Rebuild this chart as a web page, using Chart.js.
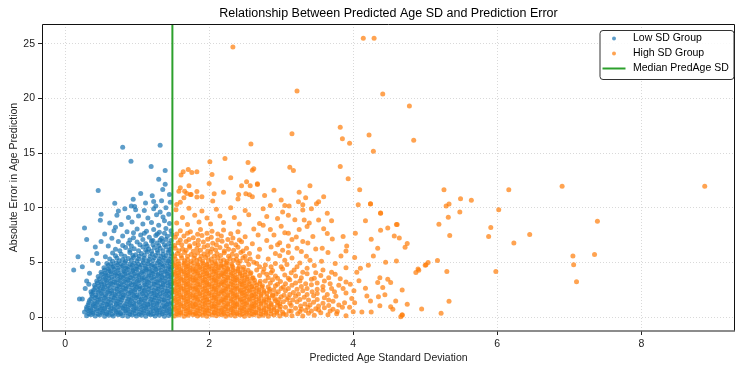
<!DOCTYPE html>
<html>
<head>
<meta charset="utf-8">
<script src="https://cdn.jsdelivr.net/npm/chart.js@4.4.1/dist/chart.umd.min.js"></script>
<style>
    html, body { margin: 0; padding: 0; background: #fff; }
    canvas { display: block; }
</style>
</head>
<body>
<canvas id="sdChart" width="739" height="369"></canvas>
<script>
// =====================
// DATA
// =====================
let chartTitle = "Relationship Between Predicted Age SD and Prediction Error";
let xLabel = "Predicted Age Standard Deviation";
let yLabel = "Absolute Error in Age Prediction";
let seriesNames = ["Low SD Group", "High SD Group", "Median PredAge SD"];

let xTicks = [0, 2, 4, 6, 8];
let yTicks = [0, 5, 10, 15, 20, 25];

let medianSd = 1.49;

// low SD group: [sd, abs error]
let lowSdPoints = [
    [0.30,0.12],[0.36,0.2],[0.42,0.1],[0.48,0.18],[0.55,0.08],[0.61,0.16],[0.67,0.1],[0.74,0.2],[0.8,0.12],[0.87,0.06],[0.93,0.18],[0.99,0.1],[1.06,0.15],[1.12,0.08],[1.19,0.2],[1.25,0.1],[1.31,0.16],[1.38,0.06],[1.44,0.14],
    [0.27,0.45],[0.33,0.55],[0.39,0.48],[0.45,0.58],[0.52,0.5],[0.58,0.44],[0.64,0.56],[0.71,0.5],[0.77,0.42],[0.84,0.55],[0.9,0.48],[0.96,0.58],[1.03,0.46],[1.09,0.52],[1.15,0.44],[1.22,0.57],[1.28,0.5],[1.35,0.45],[1.41,0.55],[1.47,0.48],
    [0.3,0.9],[0.36,0.85],[0.42,0.95],[0.49,0.88],[0.55,0.82],[0.61,0.93],[0.68,0.86],[0.74,0.95],[0.8,0.84],[0.87,0.9],[0.93,0.97],[0.99,0.85],[1.06,0.92],[1.12,0.86],[1.19,0.95],[1.25,0.88],[1.31,0.82],[1.38,0.93],[1.44,0.87],
    [0.33,1.3],[0.39,1.22],[0.45,1.35],[0.52,1.27],[0.58,1.2],[0.64,1.32],[0.71,1.25],[0.77,1.36],[0.84,1.22],[0.9,1.3],[0.96,1.24],[1.03,1.34],[1.09,1.27],[1.15,1.2],[1.22,1.33],[1.28,1.26],[1.35,1.35],[1.41,1.22],[1.47,1.3],
    [0.36,1.68],[0.42,1.75],[0.49,1.65],[0.55,1.72],[0.61,1.62],[0.68,1.74],[0.74,1.66],[0.8,1.76],[0.87,1.64],[0.93,1.7],[0.99,1.78],[1.06,1.65],[1.12,1.72],[1.19,1.63],[1.25,1.75],[1.31,1.68],[1.38,1.6],[1.44,1.73],
    [0.37,2.1],[0.43,2.02],[0.5,2.14],[0.56,2.06],[0.62,2.16],[0.69,2.05],[0.75,2.12],[0.81,2.02],[0.88,2.15],[0.94,2.08],[1.0,2.0],[1.07,2.13],[1.13,2.06],[1.2,2.16],[1.26,2.04],[1.32,2.12],[1.39,2.05],[1.45,2.15],
    [0.4,2.5],[0.46,2.44],[0.53,2.56],[0.59,2.47],[0.65,2.4],[0.72,2.53],[0.78,2.45],[0.84,2.56],[0.91,2.42],[0.97,2.5],[1.03,2.58],[1.1,2.44],[1.16,2.52],[1.23,2.42],[1.29,2.55],[1.35,2.47],[1.42,2.4],[1.48,2.53],
    [0.41,2.9],[0.47,2.84],[0.54,2.95],[0.6,2.86],[0.66,2.97],[0.73,2.85],[0.79,2.92],[0.85,2.82],[0.92,2.96],[0.98,2.88],[1.04,2.8],[1.11,2.93],[1.17,2.86],[1.24,2.97],[1.3,2.84],[1.36,2.92],[1.43,2.85],
    [0.44,3.3],[0.5,3.22],[0.57,3.35],[0.63,3.26],[0.69,3.2],[0.76,3.33],[0.82,3.25],[0.88,3.36],[0.95,3.22],[1.01,3.3],[1.07,3.38],[1.14,3.24],[1.2,3.32],[1.27,3.22],[1.33,3.35],[1.39,3.27],[1.46,3.2],
    [0.46,3.7],[0.53,3.64],[0.59,3.75],[0.65,3.66],[0.72,3.76],[0.78,3.65],[0.84,3.72],[0.91,3.62],[0.97,3.76],[1.03,3.68],[1.1,3.6],[1.16,3.73],[1.23,3.66],[1.29,3.77],[1.35,3.64],[1.42,3.72],[1.47,3.65],
    [0.5,4.1],[0.56,4.02],[0.63,4.15],[0.69,4.06],[0.75,4.0],[0.82,4.13],[0.88,4.05],[0.94,4.16],[1.01,4.02],[1.07,4.1],[1.13,4.18],[1.2,4.04],[1.26,4.12],[1.33,4.02],[1.39,4.15],[1.45,4.07],
    [0.54,4.5],[0.6,4.42],[0.66,4.55],[0.73,4.47],[0.79,4.56],[0.85,4.45],[0.92,4.52],[0.98,4.42],[1.04,4.56],[1.11,4.48],[1.17,4.4],[1.24,4.53],[1.3,4.46],[1.36,4.57],[1.43,4.44],[1.48,4.52],
    [0.58,4.9],[0.64,4.84],[0.71,4.95],[0.77,4.86],[0.83,4.97],[0.9,4.85],[0.96,4.92],[1.02,4.82],[1.09,4.96],[1.15,4.88],[1.21,4.8],[1.28,4.93],[1.34,4.86],[1.41,4.97],[1.46,4.84],
    [0.33,0.3],[0.39,0.34],[0.46,0.28],[0.52,0.36],[0.58,0.3],[0.65,0.26],[0.71,0.35],[0.77,0.3],[0.84,0.38],[0.9,0.28],[0.97,0.33],[1.03,0.25],[1.09,0.36],[1.16,0.3],[1.22,0.27],[1.28,0.35],[1.35,0.3],[1.41,0.38],[1.47,0.28],
    [0.3,0.7],[0.36,0.66],[0.43,0.74],[0.49,0.68],[0.55,0.76],[0.62,0.65],[0.68,0.72],[0.74,0.67],[0.81,0.75],[0.87,0.68],[0.94,0.64],[1.0,0.73],[1.06,0.68],[1.13,0.76],[1.19,0.66],[1.26,0.72],[1.32,0.65],[1.38,0.75],[1.45,0.7],
    [0.32,1.1],[0.39,1.05],[0.45,1.14],[0.51,1.06],[0.58,1.12],[0.64,1.04],[0.71,1.15],[0.77,1.08],[0.83,1.02],[0.9,1.13],[0.96,1.06],[1.03,1.15],[1.09,1.05],[1.15,1.12],[1.22,1.07],[1.28,1.14],[1.35,1.04],[1.41,1.1],[1.47,1.16],
    [0.34,1.5],[0.41,1.45],[0.47,1.55],[0.54,1.48],[0.6,1.42],[0.67,1.54],[0.73,1.46],[0.79,1.55],[0.86,1.44],[0.92,1.52],[0.98,1.46],[1.05,1.56],[1.11,1.48],[1.18,1.42],[1.24,1.54],[1.3,1.47],[1.37,1.55],[1.43,1.45],
    [0.38,1.9],[0.45,1.85],[0.51,1.95],[0.57,1.88],[0.64,1.82],[0.7,1.94],[0.77,1.86],[0.83,1.96],[0.89,1.84],[0.96,1.92],[1.02,1.86],[1.09,1.95],[1.15,1.88],[1.21,1.82],[1.28,1.94],[1.34,1.87],[1.41,1.95],[1.47,1.85],
    [0.39,2.3],[0.46,2.26],[0.52,2.35],[0.59,2.28],[0.65,2.22],[0.72,2.34],[0.78,2.27],[0.84,2.36],[0.91,2.24],[0.97,2.32],[1.04,2.26],[1.1,2.35],[1.16,2.28],[1.23,2.22],[1.29,2.34],[1.36,2.27],[1.42,2.36],[1.48,2.25],
    [0.42,2.7],[0.49,2.66],[0.55,2.75],[0.62,2.68],[0.68,2.62],[0.75,2.74],[0.81,2.67],[0.88,2.76],[0.94,2.64],[1.0,2.72],[1.07,2.66],[1.13,2.75],[1.2,2.68],[1.26,2.62],[1.33,2.74],[1.39,2.67],[1.46,2.76],
    [0.45,3.1],[0.51,3.05],[0.58,3.14],[0.64,3.06],[0.71,3.12],[0.77,3.04],[0.84,3.15],[0.9,3.08],[0.97,3.02],[1.03,3.13],[1.1,3.06],[1.16,3.15],[1.23,3.05],[1.29,3.12],[1.36,3.07],[1.42,3.14],[1.48,3.04],
    [0.48,3.5],[0.55,3.45],[0.61,3.55],[0.68,3.48],[0.74,3.42],[0.81,3.54],[0.87,3.46],[0.94,3.55],[1.0,3.44],[1.07,3.52],[1.13,3.46],[1.2,3.56],[1.26,3.48],[1.32,3.42],[1.39,3.54],[1.45,3.47],
    [0.51,3.9],[0.57,3.86],[0.64,3.95],[0.7,3.88],[0.77,3.82],[0.83,3.94],[0.9,3.87],[0.96,3.96],[1.03,3.84],[1.09,3.92],[1.16,3.86],[1.22,3.95],[1.29,3.88],[1.35,3.82],[1.42,3.94],[1.48,3.87],
    [0.55,4.3],[0.61,4.25],[0.68,4.35],[0.74,4.28],[0.81,4.22],[0.87,4.34],[0.94,4.27],[1.0,4.36],[1.07,4.24],[1.13,4.32],[1.2,4.26],[1.26,4.35],[1.33,4.28],[1.39,4.22],[1.46,4.34],
    [0.6,4.7],[0.67,4.65],[0.73,4.75],[0.8,4.68],[0.86,4.62],[0.93,4.74],[0.99,4.67],[1.06,4.76],[1.12,4.64],[1.19,4.72],[1.25,4.66],[1.32,4.75],[1.38,4.68],[1.44,4.62],
    [0.62,5.3],[0.72,5.4],[0.8,5.25],[0.88,5.35],[0.95,5.45],[1.02,5.3],[1.1,5.38],[1.17,5.25],[1.24,5.42],[1.31,5.3],[1.38,5.4],[1.45,5.28],
    [0.66,5.1],[0.75,5.15],[0.84,5.1],[0.92,5.18],[1.0,5.12],[1.08,5.2],[1.15,5.1],[1.22,5.16],[1.3,5.1],[1.36,5.2],[1.43,5.12],[1.48,5.05],
    [0.7,5.6],[0.83,5.55],[0.94,5.62],[1.03,5.55],[1.1,5.65],[1.18,5.55],[1.26,5.62],[1.33,5.55],[1.4,5.6],[1.47,5.55],
    [0.66,5.85],[0.78,5.75],[0.9,5.9],[0.98,5.7],[1.06,5.82],[1.14,5.95],[1.21,5.76],[1.29,5.88],[1.36,5.72],[1.43,5.9],[1.48,5.78],
    [0.76,6.05],[0.9,6.1],[1.02,6.05],[1.12,6.1],[1.2,6.02],[1.28,6.1],[1.36,6.05],[1.44,6.1],
    [0.7,6.2],[0.84,6.35],[0.96,6.25],[1.08,6.4],[1.16,6.22],[1.24,6.36],[1.32,6.28],[1.4,6.42],[1.46,6.2],
    [0.8,6.55],[0.92,6.5],[1.04,6.6],[1.14,6.5],[1.22,6.62],[1.3,6.52],[1.38,6.62],[1.47,6.5],
    [0.74,6.9],[0.88,6.75],[1.0,6.85],[1.12,6.7],[1.2,6.95],[1.28,6.78],[1.35,6.9],[1.44,6.72],
    [0.9,7.05],[1.08,7.1],[1.22,7.0],[1.32,7.05],[1.4,7.1],[1.47,7.0],
    [0.8,7.4],[0.95,7.25],[1.05,7.5],[1.17,7.3],[1.26,7.45],[1.34,7.2],[1.42,7.38],[1.48,7.55],
    [1.1,7.65],[1.28,7.6],[1.38,7.65],[0.95,7.7],
    [0.68,7.9],[0.86,7.8],[1.0,8.05],[1.13,7.85],[1.23,8.0],[1.31,7.75],[1.4,8.1],[1.47,7.9],
    [0.62,8.6],[0.78,8.45],[0.93,8.7],[1.08,8.5],[1.2,8.65],[1.3,8.4],[1.38,8.8],[1.45,8.55],
    [0.72,9.3],[0.88,9.1],[1.02,9.25],[1.15,9.05],[1.27,9.35],[1.36,9.15],[1.44,9.4],
    [0.5,9.39],[0.49,8.84],[0.27,8.14],[0.3,7.1],[0.12,4.3],[0.18,5.5],[0.24,4.6],[0.2,1.64],[0.24,1.64],[0.3,3.3],
    [0.34,4.0],[0.38,5.2],[0.44,5.8],[0.42,6.4],[0.5,6.9],[0.55,7.6],[0.46,4.9],[0.28,2.6],[0.33,3.0],[0.36,2.3],
    [0.56,5.5],[0.6,6.5],[0.65,7.2],[0.7,8.2],[0.74,9.7],[0.83,9.9],[0.98,9.8],[1.1,9.75],[1.23,9.9],[1.32,9.6],[1.4,10.0],
    [0.8,15.52],[1.32,15.7],[0.915,14.25],[1.195,13.76],[1.39,13.4],[1.39,12.15],[1.356,11.67],[1.21,11.09],[0.46,11.58],
    [0.69,10.4],[0.946,10.76],[1.117,10.42],[1.23,10.57],[1.34,10.64],[0.92,10.15],[0.966,10.1],[1.26,10.15],[1.45,11.2],
    [1.05,11.3],[1.3,12.6],[1.46,10.5]
];

// high SD group: [sd, abs error]
let highSdPoints = [
    [1.52,0.1],[1.58,0.18],[1.65,0.08],[1.71,0.15],[1.78,0.2],[1.84,0.1],[1.91,0.16],[1.97,0.06],[2.04,0.18],[2.1,0.12],[2.17,0.2],[2.23,0.08],[2.3,0.15],[2.36,0.1],[2.43,0.18],[2.49,0.06],[2.56,0.14],[2.62,0.2],[2.69,0.1],[2.75,0.16],[2.82,0.08],[2.9,0.18],[2.98,0.1],[3.07,0.2],[3.15,0.12],
    [1.55,0.5],[1.61,0.44],[1.68,0.56],[1.74,0.48],[1.81,0.42],[1.87,0.55],[1.94,0.47],[2.0,0.58],[2.07,0.44],[2.13,0.52],[2.2,0.46],[2.26,0.57],[2.33,0.5],[2.39,0.42],[2.46,0.55],[2.52,0.48],[2.59,0.56],[2.65,0.44],[2.72,0.52],[2.79,0.46],[2.86,0.57],[2.94,0.5],[3.02,0.44],[3.11,0.55],
    [1.52,0.9],[1.58,0.84],[1.65,0.95],[1.71,0.87],[1.78,0.97],[1.84,0.85],[1.91,0.92],[1.97,0.82],[2.04,0.96],[2.1,0.88],[2.17,0.8],[2.23,0.93],[2.3,0.86],[2.36,0.97],[2.43,0.84],[2.49,0.92],[2.56,0.85],[2.62,0.96],[2.69,0.88],[2.76,0.82],[2.83,0.94],[2.9,0.86],[2.99,0.95],
    [1.55,1.3],[1.61,1.22],[1.68,1.35],[1.74,1.26],[1.81,1.2],[1.87,1.33],[1.94,1.25],[2.0,1.36],[2.07,1.22],[2.13,1.3],[2.2,1.38],[2.26,1.24],[2.33,1.32],[2.39,1.22],[2.46,1.35],[2.52,1.27],[2.59,1.2],[2.65,1.33],[2.72,1.26],[2.79,1.36],[2.86,1.24],[2.95,1.32],
    [1.52,1.7],[1.58,1.64],[1.65,1.75],[1.71,1.66],[1.78,1.76],[1.84,1.65],[1.91,1.72],[1.97,1.62],[2.04,1.76],[2.1,1.68],[2.17,1.6],[2.23,1.73],[2.3,1.66],[2.36,1.77],[2.43,1.64],[2.49,1.72],[2.56,1.65],[2.62,1.76],[2.69,1.68],[2.76,1.6],[2.83,1.74],[2.91,1.66],
    [1.55,2.1],[1.61,2.02],[1.68,2.15],[1.74,2.06],[1.81,2.0],[1.87,2.13],[1.94,2.05],[2.0,2.16],[2.07,2.02],[2.13,2.1],[2.2,2.18],[2.26,2.04],[2.33,2.12],[2.39,2.02],[2.46,2.15],[2.52,2.07],[2.59,2.0],[2.65,2.13],[2.72,2.06],[2.8,2.16],[2.88,2.04],
    [1.52,2.5],[1.58,2.44],[1.65,2.55],[1.71,2.46],[1.78,2.56],[1.84,2.45],[1.91,2.52],[1.97,2.42],[2.04,2.56],[2.1,2.48],[2.17,2.4],[2.23,2.53],[2.3,2.46],[2.36,2.57],[2.43,2.44],[2.49,2.52],[2.56,2.45],[2.62,2.56],[2.69,2.48],[2.76,2.42],[2.84,2.55],
    [1.55,2.9],[1.61,2.82],[1.68,2.95],[1.74,2.86],[1.81,2.8],[1.87,2.93],[1.94,2.85],[2.0,2.96],[2.07,2.82],[2.13,2.9],[2.2,2.98],[2.26,2.84],[2.33,2.92],[2.39,2.82],[2.46,2.95],[2.52,2.87],[2.59,2.8],[2.66,2.93],[2.74,2.86],
    [1.52,3.3],[1.58,3.24],[1.65,3.35],[1.71,3.26],[1.78,3.36],[1.84,3.25],[1.91,3.32],[1.97,3.22],[2.04,3.36],[2.1,3.28],[2.17,3.2],[2.23,3.33],[2.3,3.26],[2.36,3.37],[2.43,3.24],[2.49,3.32],[2.56,3.25],[2.63,3.36],[2.71,3.28],
    [1.55,3.7],[1.61,3.62],[1.68,3.75],[1.74,3.66],[1.81,3.6],[1.87,3.73],[1.94,3.65],[2.0,3.76],[2.07,3.62],[2.13,3.7],[2.2,3.78],[2.26,3.64],[2.33,3.72],[2.39,3.62],[2.46,3.75],[2.53,3.67],[2.61,3.6],
    [1.52,4.1],[1.58,4.04],[1.65,4.15],[1.71,4.06],[1.78,4.16],[1.84,4.05],[1.91,4.12],[1.97,4.02],[2.04,4.16],[2.1,4.08],[2.17,4.0],[2.23,4.13],[2.3,4.06],[2.36,4.17],[2.43,4.04],[2.5,4.12],[2.58,4.05],
    [1.55,4.5],[1.61,4.42],[1.68,4.55],[1.74,4.46],[1.81,4.4],[1.87,4.53],[1.94,4.45],[2.0,4.56],[2.07,4.42],[2.13,4.5],[2.2,4.58],[2.26,4.44],[2.33,4.52],[2.4,4.42],[2.48,4.55],
    [1.52,4.9],[1.58,4.84],[1.65,4.95],[1.71,4.86],[1.78,4.96],[1.84,4.85],[1.91,4.92],[1.97,4.82],[2.04,4.96],[2.1,4.88],[2.17,4.8],[2.24,4.93],[2.31,4.86],[2.4,4.97],
    [1.55,0.3],[1.61,0.34],[1.68,0.28],[1.74,0.36],[1.81,0.3],[1.87,0.26],[1.94,0.35],[2.0,0.3],[2.07,0.38],[2.13,0.28],[2.2,0.33],[2.26,0.25],[2.33,0.36],[2.39,0.3],[2.46,0.27],[2.52,0.35],[2.59,0.3],[2.65,0.38],[2.72,0.28],[2.79,0.34],[2.86,0.3],[2.94,0.36],[3.03,0.28],
    [1.52,0.7],[1.58,0.66],[1.65,0.74],[1.71,0.68],[1.78,0.76],[1.84,0.65],[1.91,0.72],[1.97,0.67],[2.04,0.75],[2.1,0.68],[2.17,0.64],[2.23,0.73],[2.3,0.68],[2.36,0.76],[2.43,0.66],[2.49,0.72],[2.56,0.65],[2.62,0.75],[2.69,0.7],[2.76,0.66],[2.83,0.74],[2.9,0.68],[2.98,0.72],
    [1.55,1.1],[1.61,1.05],[1.68,1.14],[1.74,1.06],[1.81,1.12],[1.87,1.04],[1.94,1.15],[2.0,1.08],[2.07,1.02],[2.13,1.13],[2.2,1.06],[2.26,1.15],[2.33,1.05],[2.39,1.12],[2.46,1.07],[2.52,1.14],[2.59,1.04],[2.65,1.1],[2.72,1.16],[2.79,1.06],[2.86,1.12],[2.95,1.08],
    [1.52,1.5],[1.58,1.45],[1.65,1.55],[1.71,1.48],[1.78,1.42],[1.84,1.54],[1.91,1.46],[1.97,1.55],[2.04,1.44],[2.1,1.52],[2.17,1.46],[2.23,1.56],[2.3,1.48],[2.36,1.42],[2.43,1.54],[2.49,1.47],[2.56,1.55],[2.62,1.45],[2.69,1.52],[2.76,1.46],[2.83,1.55],[2.92,1.48],
    [1.55,1.9],[1.61,1.85],[1.68,1.95],[1.74,1.88],[1.81,1.82],[1.87,1.94],[1.94,1.86],[2.0,1.96],[2.07,1.84],[2.13,1.92],[2.2,1.86],[2.26,1.95],[2.33,1.88],[2.39,1.82],[2.46,1.94],[2.52,1.87],[2.59,1.95],[2.65,1.85],[2.72,1.92],[2.8,1.86],[2.88,1.94],
    [1.52,2.3],[1.58,2.26],[1.65,2.35],[1.71,2.28],[1.78,2.22],[1.84,2.34],[1.91,2.27],[1.97,2.36],[2.04,2.24],[2.1,2.32],[2.17,2.26],[2.23,2.35],[2.3,2.28],[2.36,2.22],[2.43,2.34],[2.49,2.27],[2.56,2.36],[2.62,2.25],[2.69,2.32],[2.76,2.26],[2.84,2.35],
    [1.55,2.7],[1.61,2.66],[1.68,2.75],[1.74,2.68],[1.81,2.62],[1.87,2.74],[1.94,2.67],[2.0,2.76],[2.07,2.64],[2.13,2.72],[2.2,2.66],[2.26,2.75],[2.33,2.68],[2.39,2.62],[2.46,2.74],[2.52,2.67],[2.59,2.76],[2.66,2.64],[2.73,2.72],
    [1.52,3.1],[1.58,3.05],[1.65,3.14],[1.71,3.06],[1.78,3.12],[1.84,3.04],[1.91,3.15],[1.97,3.08],[2.04,3.02],[2.1,3.13],[2.17,3.06],[2.23,3.15],[2.3,3.05],[2.36,3.12],[2.43,3.07],[2.49,3.14],[2.56,3.04],[2.63,3.12],[2.7,3.06],
    [1.55,3.5],[1.61,3.45],[1.68,3.55],[1.74,3.48],[1.81,3.42],[1.87,3.54],[1.94,3.46],[2.0,3.55],[2.07,3.44],[2.13,3.52],[2.2,3.46],[2.26,3.56],[2.33,3.48],[2.39,3.42],[2.46,3.54],[2.53,3.47],[2.6,3.55],
    [1.52,3.9],[1.58,3.86],[1.65,3.95],[1.71,3.88],[1.78,3.82],[1.84,3.94],[1.91,3.87],[1.97,3.96],[2.04,3.84],[2.1,3.92],[2.17,3.86],[2.23,3.95],[2.3,3.88],[2.36,3.82],[2.43,3.94],[2.5,3.87],[2.57,3.95],
    [1.55,4.3],[1.61,4.25],[1.68,4.35],[1.74,4.28],[1.81,4.22],[1.87,4.34],[1.94,4.27],[2.0,4.36],[2.07,4.24],[2.13,4.32],[2.2,4.26],[2.26,4.35],[2.33,4.28],[2.4,4.22],[2.47,4.34],[2.54,4.27],
    [1.52,4.7],[1.58,4.65],[1.65,4.75],[1.71,4.68],[1.78,4.62],[1.84,4.74],[1.91,4.67],[1.97,4.76],[2.04,4.64],[2.1,4.72],[2.17,4.66],[2.24,4.75],[2.32,4.68],[2.42,4.62],
    [1.57,5.1],[1.66,5.15],[1.75,5.08],[1.83,5.18],[1.91,5.1],[1.99,5.16],[2.08,5.08],[2.16,5.15],[2.25,5.1],[2.34,5.18],[2.43,5.1],[2.52,5.15],
    [1.53,5.3],[1.62,5.4],[1.7,5.25],[1.79,5.38],[1.87,5.28],[1.95,5.45],[2.03,5.3],[2.12,5.4],[2.2,5.22],[2.29,5.36],[2.38,5.28],[2.47,5.42],[2.57,5.3],
    [1.52,5.58],[1.61,5.62],[1.7,5.55],[1.8,5.62],[1.89,5.56],[1.98,5.64],[2.07,5.56],[2.16,5.62],[2.27,5.55],[2.38,5.62],[2.5,5.56],
    [1.56,5.8],[1.66,5.9],[1.75,5.72],[1.84,5.86],[1.93,5.76],[2.02,5.92],[2.11,5.78],[2.21,5.88],[2.32,5.74],[2.44,5.9],[2.56,5.8],
    [1.58,6.05],[1.68,6.1],[1.78,6.02],[1.88,6.1],[1.98,6.04],[2.09,6.12],[2.21,6.04],[2.34,6.1],[2.47,6.04],
    [1.53,6.3],[1.63,6.22],[1.73,6.38],[1.83,6.26],[1.93,6.4],[2.04,6.25],[2.15,6.35],[2.27,6.2],[2.4,6.38],[2.52,6.3],
    [1.52,6.55],[1.62,6.6],[1.73,6.52],[1.85,6.62],[1.98,6.55],[2.1,6.6],[2.24,6.52],[2.37,6.62],
    [1.57,6.8],[1.68,6.9],[1.8,6.72],[1.92,6.86],[2.05,6.75],[2.18,6.92],[2.31,6.78],[2.45,6.88],[2.6,6.7],
    [1.6,7.05],[1.72,7.1],[1.85,7.02],[1.98,7.12],[2.12,7.05],[2.26,7.1],[2.42,7.05],
    [1.53,7.3],[1.65,7.4],[1.78,7.25],[1.9,7.45],[2.03,7.3],[2.17,7.42],[2.33,7.22],[2.5,7.35],[2.68,7.5],
    [1.55,7.6],[1.7,7.65],[1.84,7.58],[1.97,7.65],[2.12,7.6],[2.3,7.62],
    [1.6,7.9],[1.74,7.8],[1.88,8.0],[2.04,7.85],[2.2,7.95],[2.4,7.8],[2.62,8.05],
    [1.55,8.6],[1.7,8.45],[1.86,8.7],[2.02,8.5],[2.2,8.65],[2.42,8.5],[2.7,8.55],
    [1.63,9.1],[1.8,9.3],[1.97,9.05],[2.15,9.25],[2.35,9.1],[2.55,9.35],[2.8,9.2],
    [1.54,9.8],[1.72,9.95],[1.9,9.7],[2.1,9.85],[2.3,10.0],[2.5,9.75],[2.75,9.9],
    [1.6,10.5],[1.55,10.3],[1.58,11.5],[1.65,10.9],[1.75,11.2],[1.9,11.0],[2.05,10.6],[2.2,11.4],[2.4,10.8],[2.6,11.0],
    [1.72,12.0],[2.0,12.2],[2.45,12.0],[2.9,11.6],[3.0,10.7],[3.05,10.2],
    [2.98,1.2],[3.06,0.9],[3.08,1.6],[2.97,1.6],[3.04,2.0],[2.93,2.1],[2.9,2.5],[3.0,2.6],[2.85,3.1],[2.95,3.0],
    [2.82,3.6],[2.95,3.55],[2.75,4.1],[2.86,4.05],[2.7,4.6],[2.86,4.6],[2.62,5.0],[3.0,4.6],
    [3.23,0.3],[3.3,0.1],[3.38,0.35],[3.46,0.15],[3.55,0.4],[3.65,0.2],[3.77,0.3],[3.9,0.12],
    [3.2,0.8],[3.28,0.7],[3.37,0.9],[3.48,0.75],[3.6,0.85],[3.72,0.7],[3.85,0.9],
    [3.03,1.4],[3.12,1.25],[3.22,1.4],[3.33,1.2],[3.45,1.35],[3.58,1.25],[3.72,1.45],[3.88,1.3],
    [3.0,1.85],[3.1,1.75],[3.2,1.9],[3.32,1.8],[3.45,1.95],[3.6,1.75],[3.76,1.9],
    [2.96,2.3],[3.06,2.4],[3.17,2.25],[3.3,2.4],[3.43,2.3],[3.58,2.45],[3.74,2.3],[3.9,2.2],
    [2.82,2.75],[2.92,2.85],[3.03,2.75],[3.15,2.9],[3.28,2.8],[3.42,2.95],[3.58,2.8],[3.8,2.9],
    [2.78,3.3],[2.88,3.4],[2.99,3.25],[3.12,3.4],[3.26,3.3],[3.42,3.45],[3.6,3.3],
    [2.7,3.8],[2.8,3.9],[2.92,3.75],[3.05,3.85],[3.2,3.75],[3.36,3.95],[3.55,3.8],[3.75,3.9],
    [2.66,4.3],[2.76,4.4],[2.88,4.25],[3.02,4.4],[3.18,4.3],[3.36,4.45],[3.58,4.3],
    [2.55,4.8],[2.66,4.9],[2.78,4.75],[2.92,4.9],[3.08,4.8],[3.26,4.95],[3.46,4.7],
    [2.68,5.5],[2.82,5.3],[2.98,5.6],[3.15,5.4],[3.35,5.55],
    [2.7,6.2],[2.86,6.4],[3.02,6.1],[3.22,6.3],[2.8,7.0],[2.98,6.8],[3.15,7.1],[2.85,8.0],[3.0,8.3],[2.95,9.0],
    [3.14,0.55],[3.26,0.5],[3.34,0.6],[3.42,0.55],[3.52,0.65],[3.68,0.55],[3.14,1.05],[3.27,1.0],[3.4,1.1],[3.52,1.0],
    [3.66,1.05],[3.8,1.1],[3.16,1.55],[3.26,1.6],[3.38,1.55],[3.5,1.6],[3.66,1.55],[3.12,2.05],[3.24,2.1],[3.36,2.05],
    [3.5,2.15],[3.64,2.05],[3.1,2.6],[3.22,2.55],[3.36,2.6],[3.5,2.55],[3.7,2.6],[3.06,3.05],[3.2,3.1],[3.34,3.05],
    [3.5,3.1],[3.68,3.05],[3.9,3.2],[3.1,3.55],[3.28,3.6],[3.46,3.55],[3.66,3.6],[3.14,4.05],[3.3,4.1],[3.48,4.05],
    [3.7,4.1],[3.9,4.5],[3.75,4.9],[3.56,5.1],[3.4,5.2],[3.22,4.6],[3.05,5.2],[3.78,0.5],[3.95,0.9],[3.98,1.7],
    [3.86,2.6],[3.82,3.5],[3.96,3.0],[2.92,5.8],[3.1,5.9],[3.28,6.0],[2.95,6.6],[3.1,6.5],[3.3,6.9],[2.9,7.5],
    [3.05,7.7],[3.25,8.0],[2.75,8.4],[3.1,9.3],[2.85,10.2],[3.02,9.6],
    [2.33,24.7],[3.22,20.67],[4.14,25.5],[4.29,25.5],[4.41,20.4],[4.78,19.3],[4.22,16.65],[4.84,16.16],[4.28,15.16],
    [3.15,16.77],[3.82,17.35],[3.85,16.3],[3.95,15.9],[2.58,15.83],[3.82,13.76],[3.93,12.64],[3.12,13.7],[3.17,13.4],
    [2.22,14.5],[2.01,14.19],[2.54,14.13],[2.6,13.43],[2.62,13.55],[2.04,13.04],[2.3,12.73],[2.52,12.37],[1.61,13.0],
    [1.64,13.28],[1.71,13.49],[1.76,13.22],[1.83,13.28],[2.67,12.19],
    [1.6,11.82],[1.66,11.5],[1.69,11.3],[1.74,11.2],[1.83,11.49],[1.83,10.97],[2.07,11.28],[2.41,11.21],[2.51,11.28],
    [2.56,11.19],[2.77,11.12],[2.57,12.0],[2.67,12.12],
    [3.4,12.0],[3.25,11.42],[4.09,11.64],[3.34,10.91],[3.59,11.0],[3.52,10.55],[3.49,10.36],[3.24,10.55],[3.3,10.27],
    [3.11,10.15],[4.07,10.27],[4.24,10.36],[3.42,9.9],[3.3,9.78],[3.64,9.5],[4.38,9.5],[3.19,8.9],[3.32,8.87],[3.52,8.87],
    [3.7,8.81],[4.17,8.81],[3.39,8.6],[3.36,8.27],[4.61,8.45],[4.48,8.14],[4.38,7.93],[3.59,8.08],[3.64,7.63],[4.03,7.66],
    [4.57,7.41],[4.64,7.23],[3.1,7.66],[3.21,7.32],[3.44,7.36],[3.71,7.14],[3.86,7.36],[4.25,7.11],[4.75,6.72],[4.72,6.38],
    [4.34,6.29],[3.91,6.5],[3.57,6.29],[3.48,6.23],[3.37,6.77],[3.9,6.04],[3.65,5.9],[4.28,5.59],[3.83,5.59],[4.02,5.44],
    [4.45,5.01],[4.6,5.13],[5.04,4.99],[5.0,4.74],[4.9,4.38],[4.87,4.07],[4.21,4.74],[4.1,4.47],[4.05,4.1],[4.08,3.31],
    [4.37,3.58],[4.48,3.46],[4.34,3.16],[4.52,3.16],[4.41,2.71],[4.68,2.46],[4.17,2.62],[4.44,2.03],[4.35,1.85],[4.19,1.91],
    [4.01,2.4],[4.02,1.3],[4.24,1.46],[4.59,1.46],[4.37,1.03],[4.52,0.94],[4.55,0.7],[4.12,0.46],[4.25,0.46],[4.68,0.15],
    [4.66,0.03],[4.95,0.73],[4.0,0.48],
    [5.26,11.64],[6.16,11.64],[6.9,11.97],[8.88,11.97],[5.49,10.82],[5.64,10.69],[5.29,10.15],[5.33,10.33],[6.02,9.82],
    [5.48,9.6],[5.32,9.12],[7.39,8.75],[5.19,8.48],[5.91,8.18],[6.45,7.54],[5.34,7.45],[5.88,7.36],[6.23,6.77],[7.05,5.59],
    [7.35,5.72],[5.17,5.17],[7.06,4.77],[5.3,4.17],[5.98,4.17],[7.1,3.22],[5.33,1.43],[4.75,1.16],[5.22,0.34],[4.68,0.21],
    [4.6,8.45],[4.38,9.51],[4.24,10.33],[5.01,4.77],[4.91,4.28]
];

// =====================
// COLOURS / FONTS
// =====================
let blue = "rgba(31, 119, 180, 0.72)";
let orange = "rgba(255, 127, 14, 0.72)";
let green = "#2ca02c";
let fontName = "'Liberation Sans', Arial, Helvetica, sans-serif";

function toXY(list) {
    return list.map(p => ({ x: p[0], y: p[1] }));
}

// =====================
// PLUGIN: title, frame, legend
// =====================
let framePlugin = {
    id: "frame",
    afterDraw(chart) {
        let ctx = chart.ctx;
        let a = chart.chartArea;
        ctx.save();

        // title over the plot area
        ctx.fillStyle = "#000";
        ctx.font = "12.5px " + fontName;
        ctx.textAlign = "center";
        ctx.textBaseline = "middle";
        ctx.fillText(chartTitle, (a.left + a.right) / 2, 14);

        // spines
        ctx.strokeStyle = "#111";
        ctx.lineWidth = 1;
        ctx.beginPath();
        ctx.moveTo(a.left + 0.5, a.bottom);
        ctx.lineTo(a.left + 0.5, a.top + 0.5);
        ctx.lineTo(a.right - 0.5, a.top + 0.5);
        ctx.lineTo(a.right - 0.5, a.bottom);
        ctx.stroke();
        ctx.strokeStyle = "#666";
        ctx.lineWidth = 1.6;
        ctx.beginPath();
        ctx.moveTo(a.left, a.bottom);
        ctx.lineTo(a.right, a.bottom);
        ctx.stroke();

        // legend box, top right
        let sets = chart.data.datasets;
        let boxW = 134, boxH = 49;
        let bx = a.right - boxW - 1.5;
        let by = a.top + 6;
        ctx.fillStyle = "rgba(255,255,255,0.85)";
        ctx.strokeStyle = "#333";
        ctx.lineWidth = 1;
        ctx.beginPath();
        ctx.roundRect(bx + 0.5, by + 0.5, boxW, boxH, 3);
        ctx.fill();
        ctx.stroke();

        ctx.font = "10.5px " + fontName;
        ctx.textAlign = "left";
        for (let i = 0; i < sets.length; i++) {
            let rowY = by + 8.5 + i * 15;
            if (sets[i].type === "line") {
                ctx.strokeStyle = sets[i].borderColor;
                ctx.lineWidth = 2;
                ctx.beginPath();
                ctx.moveTo(bx + 3, rowY);
                ctx.lineTo(bx + 26, rowY);
                ctx.stroke();
            } else {
                ctx.fillStyle = sets[i].backgroundColor;
                ctx.beginPath();
                ctx.arc(bx + 14.5, rowY, 2, 0, Math.PI * 2);
                ctx.fill();
            }
            ctx.fillStyle = "#000";
            ctx.fillText(sets[i].label, bx + 33.5, rowY);
        }
        ctx.restore();
    }
};

// =====================
// CHART
// =====================
let sdChart = new Chart(document.getElementById("sdChart"), {
    type: "scatter",
    data: {
        datasets: [
            {
                label: seriesNames[0],
                data: toXY(lowSdPoints),
                backgroundColor: blue,
                borderWidth: 0,
                pointRadius: 2.5,
                order: 3
            },
            {
                label: seriesNames[1],
                data: toXY(highSdPoints),
                backgroundColor: orange,
                borderWidth: 0,
                pointRadius: 2.5,
                order: 2
            },
            {
                label: seriesNames[2],
                type: "line",
                data: [{ x: medianSd, y: -1.28 }, { x: medianSd, y: 26.8 }],
                borderColor: green,
                borderWidth: 2,
                pointRadius: 0,
                showLine: true,
                order: 1
            }
        ]
    },
    options: {
        responsive: false,
        animation: false,
        devicePixelRatio: 1,
        layout: { padding: { top: 24, right: 2, left: 0, bottom: 5 } },
        plugins: {
            legend: { display: false },
            tooltip: { enabled: false }
        },
        scales: {
            x: {
                type: "linear",
                min: -0.32,
                max: 9.3,
                afterBuildTicks: s => { s.ticks = xTicks.map(v => ({ value: v })); },
                afterFit: s => { s.height = 33; },
                ticks: { color: "#222", font: { family: fontName, size: 10.5 }, padding: 3 },
                grid: { color: "#cfcfcf", lineWidth: 0.8, tickColor: "#222", tickLength: 4, tickWidth: 1, tickBorderDash: [] },
                border: { display: false, dash: [1, 2] },
                title: { display: true, text: xLabel, color: "#222", font: { family: fontName, size: 10.5 }, padding: { top: 1, bottom: 0 } }
            },
            y: {
                type: "linear",
                min: -1.28,
                max: 26.8,
                afterBuildTicks: s => { s.ticks = yTicks.map(v => ({ value: v })); },
                afterFit: s => { s.width = 42; },
                ticks: { color: "#222", font: { family: fontName, size: 10.5 }, padding: 3 },
                grid: { color: "#cfcfcf", lineWidth: 0.8, tickColor: "#222", tickLength: 4, tickWidth: 1, tickBorderDash: [] },
                border: { display: false, dash: [1, 2] },
                title: { display: true, text: yLabel, color: "#222", font: { family: fontName, size: 10.5 }, padding: { top: 8, bottom: 0 } }
            }
        }
    },
    plugins: [framePlugin]
});
</script>
</body>
</html>
